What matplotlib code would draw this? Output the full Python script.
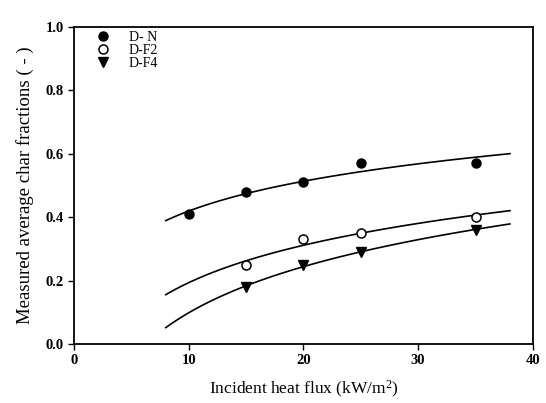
import matplotlib
matplotlib.use("Agg")
import matplotlib.pyplot as plt
import numpy as np

plt.rcParams['font.family'] = ['Liberation Serif', 'DejaVu Serif']
plt.rcParams['mathtext.fontset'] = 'custom'
plt.rcParams['mathtext.rm'] = 'Liberation Serif'
plt.rcParams['mathtext.it'] = 'Liberation Serif:italic'

# measured data
flux_n = [10, 15, 20, 25, 35]
char_n = [0.41, 0.48, 0.51, 0.57, 0.57]
flux_f2 = [15, 20, 25, 35]
char_f2 = [0.25, 0.33, 0.35, 0.40]
flux_f4 = [15, 20, 25, 35]
char_f4 = [0.18, 0.25, 0.29, 0.36]

fig = plt.figure(figsize=(5.46, 4.03), dpi=100)
ax = fig.add_axes([0.1355, 0.1464, 0.8405, 0.7866])

# logarithmic trend lines fitted to each series
xf = np.linspace(8, 38, 100)
for xs, ys in [(flux_n, char_n), (flux_f2, char_f2), (flux_f4, char_f4)]:
    b, a = np.polyfit(np.log(xs), ys, 1)
    ax.plot(xf, a + b*np.log(xf), c='k', lw=1.2)

ax.plot(flux_n, char_n, 'o', c='k', ms=6.5, label='D- N')
ax.plot(flux_f2, char_f2, 'o', mfc='white', mec='k', mew=1.1, ms=6.5, label='D-F2')
ax.plot(flux_f4, char_f4, 'v', c='k', ms=6.5, label='D-F4')

ax.set_xlim(0, 40)
ax.set_ylim(0, 1.0)
ax.set_xticks([0, 10, 20, 30, 40])
ax.set_yticks([0, 0.2, 0.4, 0.6, 0.8, 1.0])
ax.set_yticklabels(['0.0', '0.2', '0.4', '0.6', '0.8', '1.0'])
ax.tick_params(direction='out', length=4, width=1, labelsize=10.5)
for lab in ax.get_xticklabels() + ax.get_yticklabels():
    lab.set_fontweight('bold')
for s in ax.spines.values():
    s.set_linewidth(1.3)

ax.set_xlabel('Incident heat flux (kW/m$^{2}$)', fontsize=12.5, labelpad=8)
ax.set_ylabel('Measured average char fractions ( - )', fontsize=13.5, labelpad=8)

ax.legend(loc='upper left', frameon=False, fontsize=10, handletextpad=0.9,
          labelspacing=0.0, borderaxespad=0.0, bbox_to_anchor=(0.02, 1.005))

fig.savefig('out.png', dpi=100)
